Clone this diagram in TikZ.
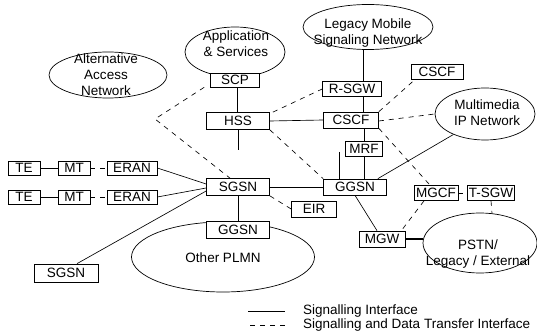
\documentclass[tikz,border=0pt]{standalone}
\usepackage{fontspec}
\setmainfont{Liberation Sans}
\usetikzlibrary{shapes.geometric}
\begin{document}
\begin{tikzpicture}[x=1pt,y=-1pt,
  font=\fontsize{13.5}{16}\selectfont,
  box/.style={draw, line width=0.7pt, fill=white, inner sep=0pt, minimum height=15pt},
  cloud/.style={draw, ellipse, line width=0.7pt, inner sep=0pt},
  lbl/.style={align=center, inner sep=0pt},
  sig/.style={line width=0.65pt},
  sdt/.style={line width=0.65pt, dash pattern=on 5pt off 5pt}]
\useasboundingbox (0,0) rectangle (537,336);
% clouds
\node[cloud, minimum width=118pt, minimum height=46pt] (AltE) at (108,75) {};
\node[lbl] (AltT) at (106,75) {Alternative\\Access\\Network};
\node[cloud, minimum width=100pt, minimum height=50pt] (AppE) at (235,52) {};
\node[lbl] (AppT) at (236,44) {Application\\\& Services};
\node[cloud, minimum width=130pt, minimum height=45pt] (LegE) at (368,27) {};
\node[lbl] (LegT) at (368,33) {Legacy Mobile\\Signaling Network};
\node[cloud, minimum width=100pt, minimum height=52pt] (MMe) at (485,114) {};
\node[lbl] (MMt) at (487,113) {Multimedia\\IP Network};
\node[cloud, minimum width=114pt, minimum height=60pt] (PSe) at (480,243) {};
\node[lbl] (PSt) at (478,254) {PSTN/\\Legacy / External};
\node[cloud, minimum width=183pt, minimum height=70pt] (OPe) at (223,257) {};
\node[lbl] (OPt) at (223,258) {Other PLMN};
% boxes
\node[box, minimum width=49pt, minimum height=14pt] (SCP) at (235,80) {SCP};
\node[box, minimum width=63pt, minimum height=17pt] (HSS) at (238,121) {HSS};
\node[box, minimum width=59pt] (RSGW) at (352,89) {R-SGW};
\node[box, minimum width=52pt] (CSCFt) at (437,72) {CSCF};
\node[box, minimum width=55pt, minimum height=16pt] (CSCF) at (351,120) {CSCF};
\node[box, minimum width=37pt] (MRF) at (364,149) {MRF};
\node[box, minimum width=63pt, minimum height=16pt] (GGSN) at (355,187) {GGSN};
\node[box, minimum width=44pt] (MGCF) at (436,193) {MGCF};
\node[box, minimum width=47pt] (TSGW) at (491,193) {T-SGW};
\node[box, minimum width=45pt, minimum height=16pt] (EIR) at (314,209) {EIR};
\node[box, minimum width=46pt, minimum height=16pt] (MGW) at (382,239) {MGW};
\node[box, minimum width=63pt, minimum height=17pt] (GGSNl) at (238,230) {GGSN};
\node[box, minimum width=63pt, minimum height=17pt] (SGSN) at (238,187) {SGSN};
\node[box, minimum width=32pt, minimum height=14pt] (TEa) at (24,168) {TE};
\node[box, minimum width=32pt, minimum height=14pt] (MTa) at (74,168) {MT};
\node[box, minimum width=50pt, minimum height=14pt] (ERANa) at (132,168) {ERAN};
\node[box, minimum width=32pt, minimum height=14pt] (TEb) at (24,197) {TE};
\node[box, minimum width=32pt, minimum height=14pt] (MTb) at (74,197) {MT};
\node[box, minimum width=50pt, minimum height=14pt] (ERANb) at (132,197) {ERAN};
\node[box, minimum width=64pt, minimum height=18pt] (SGSNb) at (66,273) {SGSN};
\coordinate (HSSend) at (238,150);
\coordinate (GGSNend) at (339,152);
\coordinate (SCPbend) at (155,119);
% solid (signalling) connectors
\draw[sig] (TEa) -- (MTa);
\draw[sig] (TEb) -- (MTb);
\draw[sig] (ERANa.east) -- ([yshift=3pt]SGSN.west);
\draw[sig] (ERANb.east) -- ([yshift=-1pt]SGSN.west);
\draw[sig] ([xshift=11pt]SGSNb.north) -- ([yshift=-4pt]SGSN.west);
\draw[sig] (SGSN.south) -- (GGSNl.north);
\draw[sig] (SGSN.east) -- (GGSN.west);
\draw[sig] ([xshift=2pt]SCP.south) -- ([xshift=-1pt]HSS.north);
\draw[sig] (HSS.south) -- (HSSend);
\draw[sig] (HSS.east) -- (CSCF.west);
\draw[sig] ([xshift=11pt]RSGW.north) -- ([xshift=11pt]RSGW.north |- LegE.south);
\draw[sig] ([xshift=11pt]RSGW.south) -- ([xshift=11pt]RSGW.south |- CSCF.north);
\draw[sig] (MRF.north) -- (MRF.north |- CSCF.south);
\draw[sig] (MRF.south) -- (MRF.south |- GGSN.north);
\draw[sig] (GGSNend) -- (GGSNend |- GGSN.north);
\draw[sig] ([xshift=-9pt]GGSN.north east) -- (MMe.213);
\draw[sig] (GGSN.south) -- ([xshift=-5pt]MGW.north);
\draw[line width=1.2pt] (MGW.east) -- (MGW.east -| PSe.west);
% dashed (signalling and data transfer) connectors
\draw[sdt] (MTa) -- (ERANa);
\draw[sdt] (MTb) -- (ERANb);
\draw[sdt] ([xshift=-6pt]SCP.south west) -- (SCPbend) -- ([xshift=-8pt]SGSN.north);
\draw[sdt] (HSS.south east) -- (GGSN.north west);
\draw[sdt] ([xshift=3pt]HSS.north east) -- (RSGW.west);
\draw[sdt] (CSCF.north east) -- ([xshift=4pt]CSCFt.south west);
\draw[sdt] ([yshift=-1pt]CSCF.east) -- (MMe.west);
\draw[sdt] (CSCF.south east) -- ([xshift=-6pt]MGCF.north);
\draw[sdt] (MGCF.east) -- (TSGW.west);
\draw[sdt] ([xshift=-12pt]MGCF.south) -- ([xshift=-4pt]MGW.north east);
\draw[sdt] (TSGW.south) -- (PSe.68);
\draw[sdt] (SGSN.south east) -- (EIR.west);
% legend
\coordinate (LsA) at (248,311);
\coordinate (LsB) at (285,311);
\coordinate (LdA) at (250,325);
\coordinate (LdB) at (285,325);
\draw[sig] (LsA) -- (LsB);
\draw[sdt] (LdA) -- (LdB);
\node[anchor=west, inner sep=0pt] (LegS) at (303,311) {Signalling Interface};
\node[anchor=west, inner sep=0pt] (LegD) at (303,325) {Signalling and Data Transfer Interface};
\end{tikzpicture}
\end{document}
